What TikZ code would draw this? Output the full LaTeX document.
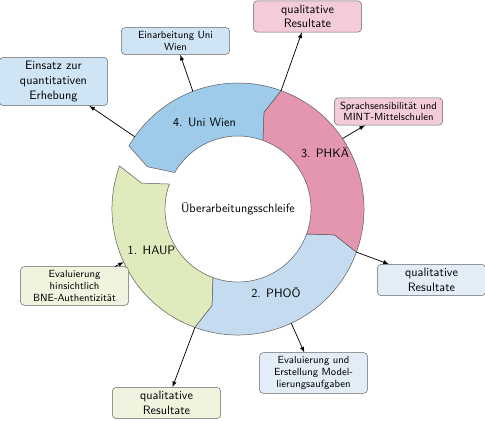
\documentclass[tikz,border=0pt]{standalone}
\usepackage{tikz}

\definecolor{colUniWien}{HTML}{9DCBE9}
\definecolor{colPhoo}{HTML}{C5DCF0}
\definecolor{colPhka}{HTML}{E396AE}
\definecolor{colHaup}{HTML}{DFEABD}
\definecolor{boxUniWien}{HTML}{CFE4F5}
\definecolor{boxPhka}{HTML}{F3CCD8}
\definecolor{boxPhoo}{HTML}{E3EDF8}
\definecolor{boxHaup}{HTML}{EFF4DF}

\begin{document}
\begin{tikzpicture}[x=0.82pt,y=0.82pt,
  box/.style={draw=gray!80!black, rounded corners=3pt, align=center, text width=82pt, inner sep=3.3pt, font=\sffamily},
  smallbox/.style={box, font=\sffamily\fontsize{8.5}{9.5}\selectfont},
  ringlabel/.style={font=\sffamily}]

\useasboundingbox (-238,-211) rectangle (247,209);

\begin{scope}

\foreach \b/\f/\c in {160/250/colHaup, 250/340/colPhoo, 340/430/colPhka, 70/150/colUniWien}
\draw[thin, draw=gray!70!black, fill=\c] (\b:126) arc[start angle=\b, end angle=\f, radius=126] -- ({\f+5}:100) -- (\f:73) arc[start angle=\f, end angle=\b, radius=73] -- ({\b+5}:100) -- cycle;

\node[ringlabel] (schleife) at (0,0) {Überarbeitungsschleife};
\node[ringlabel] (lblhaup) at (-86.5,-41) {1. HAUP};
\node[ringlabel] (lblphoo) at (38,-84) {2. PHOÖ};
\node[ringlabel] (lblphka) at (87,56) {3. PHKÄ};
\node[ringlabel] (lbluni) at (-33.5,87) {4. Uni Wien};

\node[box, fill=boxUniWien] (einsatz) at (-184.5,127.5) {Einsatz zur\\quantitativen\\Erhebung};
\node[smallbox, fill=boxUniWien] (einarbeitung) at (-62.5,168) {Einarbeitung Uni\\Wien};
\node[box, fill=boxPhka] (qualphka) at (69.5,192.5) {qualitative\\Resultate};
\node[smallbox, fill=boxPhka] (sprach) at (150.5,97.5) {Sprachsensibilität und\\MINT-Mittelschulen};
\node[box, fill=boxPhoo] (qualphoo) at (193.5,-71) {qualitative\\Resultate};
\node[smallbox, fill=boxPhoo] (modell) at (75.5,-164) {Evaluierung und\\Erstellung Model-\\lierungsaufgaben};
\node[box, fill=boxHaup] (qualhaup) at (-71.5,-194) {qualitative\\Resultate};
\node[smallbox, fill=boxHaup] (bne) at (-163.5,-77) {Evaluierung\\hinsichtlich\\BNE-Authentizität};

\foreach \a in {145,111,70,34,340,295,250,205}
\coordinate (r\a) at (\a:126);

\foreach \a/\n in {145/einsatz, 111/einarbeitung, 70/qualphka, 34/sprach, 340/qualphoo, 295/modell, 250/qualhaup}
\draw[semithick, -latex] (r\a) -- (\n);
\draw[semithick, -latex] (bne) -- (r205);

\end{scope}

\end{tikzpicture}
\end{document}
